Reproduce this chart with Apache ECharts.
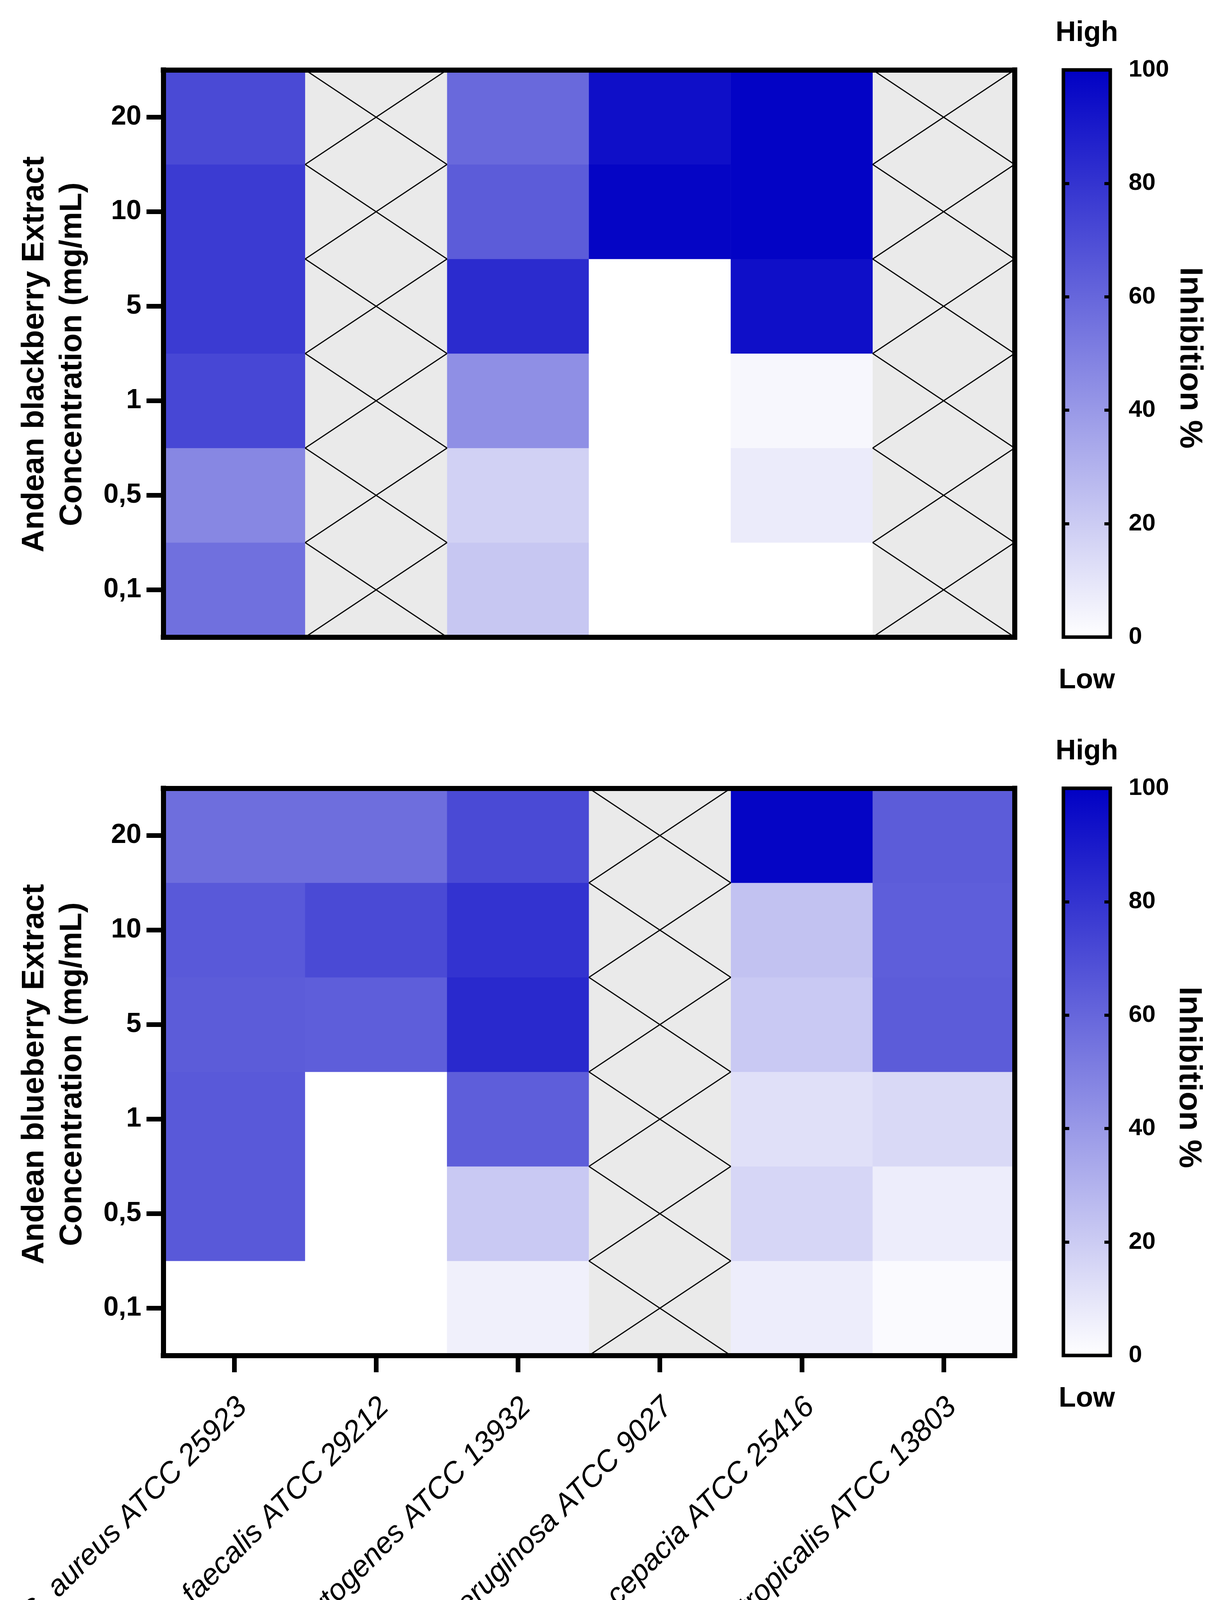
<!DOCTYPE html>
<html><head><meta charset="utf-8">
<script src="https://cdn.jsdelivr.net/npm/echarts@6/dist/echarts.min.js"></script>
<style>html,body{margin:0;padding:0;background:#fff}#c{width:3128px;height:4427px}</style>
</head><body><div id="c"></div>
<script>
// ---------- data ----------
const species = ['S. aureus ATCC 25923', 'E. faecalis ATCC 29212', 'L. monocytogenes ATCC 13932',
                 'P. aeruginosa ATCC 9027', 'B. cepacia ATCC 25416', 'C. tropicalis ATCC 13803'];
const concentrations = ['0,1', '0,5', '1', '5', '10', '20'];   // mg/mL, bottom to top
const colorbarTicks = [0, 20, 40, 60, 80, 100];
const colorbarEnds = ['Low', 'High'];

// Inhibition % (same order as concentrations); null = not tested (crossed cell)
const blackberry_sAureus  = [56, 47, 72, 77, 77, 71];
const blackberry_eFaecalis = [null, null, null, null, null, null];
const blackberry_lMono    = [22, 18, 44, 83, 64, 59];
const blackberry_pAerug   = [0, 0, 0, 0, 98, 94];
const blackberry_bCepacia = [0, 8, 3, 94, 99, 99];
const blackberry_cTrop    = [null, null, null, null, null, null];

const blueberry_sAureus   = [0, 65, 65, 64, 65, 57];
const blueberry_eFaecalis = [0, 0, 0, 63, 71, 57];
const blueberry_lMono     = [6, 21, 63, 84, 80, 71];
const blueberry_pAerug    = [null, null, null, null, null, null];
const blueberry_bCepacia  = [7, 16, 12, 21, 24, 98];
const blueberry_cTrop     = [2, 7, 15, 64, 63, 64];

const blackberryRows = [blackberry_sAureus, blackberry_eFaecalis, blackberry_lMono, blackberry_pAerug, blackberry_bCepacia, blackberry_cTrop];
const blueberryRows  = [blueberry_sAureus, blueberry_eFaecalis, blueberry_lMono, blueberry_pAerug, blueberry_bCepacia, blueberry_cTrop];

// ---------- styles / layout ----------
const FONT = 'Arial, "Liberation Sans", Helvetica, sans-serif';
const LOW_COLOR = '#ffffff', HIGH_COLOR = '#0000c4', NA_COLOR = '#eaeaea';
const PL = 418, PW = 2179, PH = 1452, TOP1 = 179, TOP2 = 2018;
const CBL = 2722, CBW = 120;
const FRAME = 13;

function split(rows) {
  const cells = [], na = [];
  rows.forEach((vals, xi) => vals.forEach((v, yi) => {
    if (v === null) na.push([xi, yi]); else cells.push([xi, yi, v]);
  }));
  return { cells, na };
}
const upperData = split(blackberryRows);
const lowerData = split(blueberryRows);

const frameLine = { show: true, lineStyle: { color: '#000', width: FRAME, cap: 'square' } };

function catX(grid, pos, withLabels) {
  return {
    type: 'category', gridIndex: grid, position: pos, data: species, z: 5,
    axisLine: frameLine,
    axisTick: withLabels ? { show: true, alignWithLabel: true, length: 43, lineStyle: { color: '#000', width: 12 } } : { show: false },
    axisLabel: withLabels ? {
      show: true, interval: 0, rotate: 45, margin: 142, color: '#000',
      fontFamily: FONT, fontSize: 76, fontStyle: 'italic', fontWeight: 'normal', padding: [0, -30, 0, 0]
    } : { show: false },
    splitLine: { show: false }
  };
}
function catY(grid, pos, withLabels) {
  return {
    type: 'category', gridIndex: grid, position: pos, data: concentrations, z: 5,
    axisLine: frameLine,
    axisTick: withLabels ? { show: true, alignWithLabel: true, length: 43, lineStyle: { color: '#000', width: 12 } } : { show: false },
    axisLabel: withLabels ? { show: true, margin: 56, color: '#000', fontFamily: FONT, fontSize: 70, fontWeight: 'bold' } : { show: false },
    splitLine: { show: false }
  };
}
function cbX(grid) {
  return { type: 'value', gridIndex: grid, min: 0, max: 1, show: false };
}
function cbY(grid, pos, withLabels) {
  return {
    type: 'value', gridIndex: grid, position: pos, z: 10,
    min: colorbarTicks[0], max: colorbarTicks[colorbarTicks.length - 1], interval: 20,
    axisLine: { show: false },
    axisTick: { show: true, inside: true, length: 15, lineStyle: { color: '#000', width: 8 } },
    axisLabel: withLabels ? { show: true, margin: 47, color: '#000', fontFamily: FONT, fontSize: 62, fontWeight: 'bold' } : { show: false },
    splitLine: { show: false }
  };
}

function naItem(params, api) {
  const c = api.coord([api.value(0), api.value(1)]);
  const s = api.size([1, 1]);
  const x0 = c[0] - s[0] / 2, x1 = c[0] + s[0] / 2, y0 = c[1] - s[1] / 2, y1 = c[1] + s[1] / 2;
  return {
    type: 'group', children: [
      { type: 'rect', shape: { x: x0, y: y0, width: s[0], height: s[1] }, style: { fill: NA_COLOR, stroke: null } },
      { type: 'line', shape: { x1: x0, y1: y0, x2: x1, y2: y1 }, style: { stroke: '#000', lineWidth: 3 } },
      { type: 'line', shape: { x1: x0, y1: y1, x2: x1, y2: y0 }, style: { stroke: '#000', lineWidth: 3 } }
    ]
  };
}
function cbItem(params, api) {
  const p0 = api.coord([0, api.value(1)]);
  const p1 = api.coord([1, api.value(0)]);
  return {
    type: 'rect',
    shape: { x: p0[0], y: p0[1], width: p1[0] - p0[0], height: p1[1] - p0[1] },
    style: {
      fill: new echarts.graphic.LinearGradient(0, 0, 0, 1, [
        { offset: 0, color: HIGH_COLOR }, { offset: 1, color: LOW_COLOR }
      ]),
      stroke: '#000', lineWidth: 9
    }
  };
}

function text(str, x, y, size, rot, lh) {
  return {
    type: 'text', x: x, y: y, rotation: rot || 0, z: 20,
    style: {
      text: str, x: 0, y: 0, fill: '#000', font: 'bold ' + size + 'px ' + FONT,
      align: 'center', verticalAlign: 'middle', lineHeight: lh || size
    }
  };
}

const chart = echarts.init(document.getElementById('c'), null, { renderer: 'canvas' });
const gridBase = { containLabel: false, outerBoundsMode: 'none', show: false };
chart.setOption({
  backgroundColor: '#fff',
  animation: false,
  grid: [
    Object.assign({ left: PL, top: TOP1, width: PW, height: PH }, gridBase),
    Object.assign({ left: PL, top: TOP2, width: PW, height: PH }, gridBase),
    Object.assign({ left: CBL, top: TOP1, width: CBW, height: PH }, gridBase),
    Object.assign({ left: CBL, top: TOP2, width: CBW, height: PH }, gridBase)
  ],
  xAxis: [catX(0, 'bottom', false), catX(0, 'top', false), catX(1, 'bottom', true), catX(1, 'top', false), cbX(2), cbX(3)],
  yAxis: [catY(0, 'left', true), catY(0, 'right', false), catY(1, 'left', true), catY(1, 'right', false),
          cbY(2, 'left', false), cbY(2, 'right', true), cbY(3, 'left', false), cbY(3, 'right', true)],
  visualMap: {
    type: 'continuous', show: false, min: colorbarTicks[0], max: colorbarTicks[colorbarTicks.length - 1],
    dimension: 2, seriesIndex: [0, 2], inRange: { color: [LOW_COLOR, HIGH_COLOR] }
  },
  series: [
    { type: 'heatmap', xAxisIndex: 0, yAxisIndex: 0, data: upperData.cells, itemStyle: { borderWidth: 0 }, emphasis: { disabled: true }, z: 2 },
    { type: 'custom', xAxisIndex: 0, yAxisIndex: 0, data: upperData.na, renderItem: naItem, z: 2, silent: true },
    { type: 'heatmap', xAxisIndex: 2, yAxisIndex: 2, data: lowerData.cells, itemStyle: { borderWidth: 0 }, emphasis: { disabled: true }, z: 2 },
    { type: 'custom', xAxisIndex: 2, yAxisIndex: 2, data: lowerData.na, renderItem: naItem, z: 2, silent: true },
    { type: 'custom', xAxisIndex: 4, yAxisIndex: 4, data: [[colorbarTicks[0], colorbarTicks[colorbarTicks.length - 1]]], renderItem: cbItem, z: 2, silent: true },
    { type: 'custom', xAxisIndex: 5, yAxisIndex: 6, data: [[colorbarTicks[0], colorbarTicks[colorbarTicks.length - 1]]], renderItem: cbItem, z: 2, silent: true }
  ],
  graphic: [
    text('Andean blackberry Extract\nConcentration (mg/mL)', 137, TOP1 + PH / 2 + 2, 80, Math.PI / 2, 97),
    text('Andean blueberry Extract\nConcentration (mg/mL)', 137, TOP2 + PH / 2 + 6, 80, Math.PI / 2, 97),
    text('Inhibition %', 3045, TOP1 + PH / 2 + 11, 82, -Math.PI / 2),
    text('Inhibition %', 3043, TOP2 + PH / 2 + 14, 82, -Math.PI / 2),
    text(colorbarEnds[1], CBL + CBW / 2, TOP1 - 94, 72),
    text(colorbarEnds[0], CBL + CBW / 2, TOP1 + PH + 111, 72),
    text(colorbarEnds[1], CBL + CBW / 2, TOP2 - 94, 72),
    text(colorbarEnds[0], CBL + CBW / 2, TOP2 + PH + 111, 72)
  ]
});
</script>
</body></html>
